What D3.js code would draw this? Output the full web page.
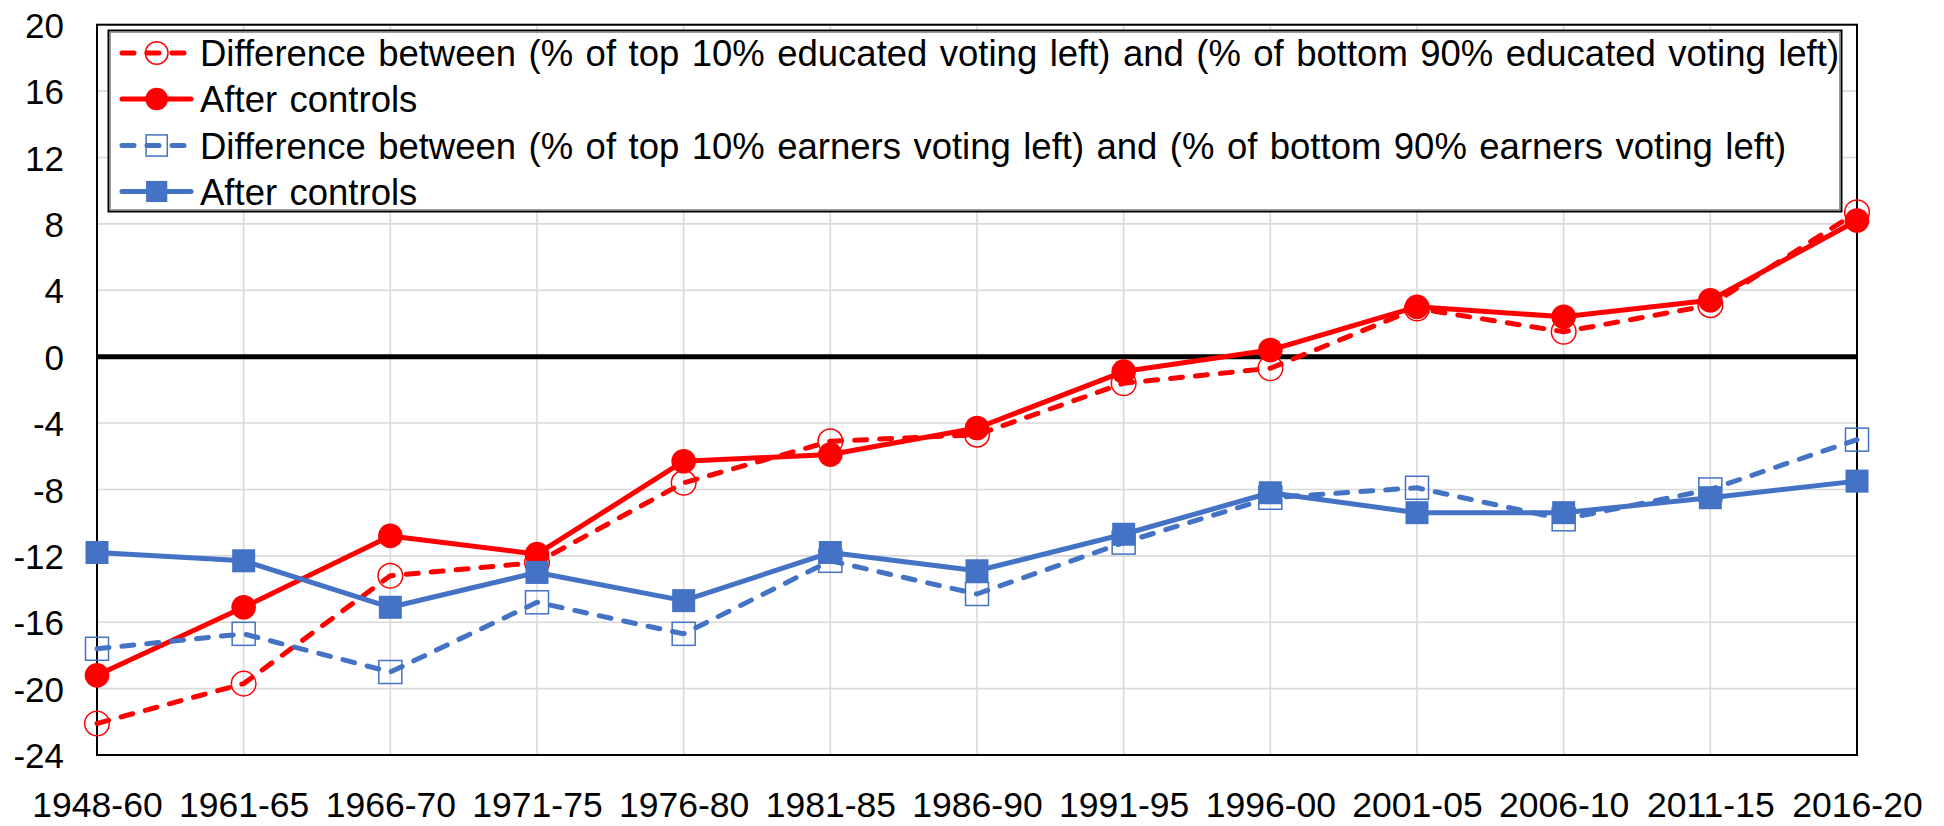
<!DOCTYPE html>
<html lang="en">
<head>
<meta charset="UTF-8">
<title>Education vs income cleavage</title>
<script src="https://d3js.org/d3.v7.min.js"></script>
<style>
  body { margin: 0; background: #fff; }
  svg { display: block; font-family: "Liberation Sans", Arial, sans-serif; }
  .grid line { stroke: #d9d9d9; stroke-width: 1.6; }
  .tick text { fill: #000; }
</style>
</head>
<body>
<svg width="1944" height="826"></svg>
<script>
// data
const periods = ["1948-60","1961-65","1966-70","1971-75","1976-80","1981-85","1986-90",
                 "1991-95","1996-00","2001-05","2006-10","2011-15","2016-20"];
const eduDiff = [-22.1,-19.7,-13.2,-12.4,-7.6,-5.1,-4.7,-1.6,-0.7,2.9,1.5,3.1,8.7];
const eduCtrl = [-19.2,-15.1,-10.8,-11.9,-6.3,-5.9,-4.3,-0.9,0.4,3.0,2.4,3.4,8.2];
const incDiff = [-17.6,-16.7,-19.0,-14.8,-16.7,-12.3,-14.3,-11.2,-8.5,-7.9,-9.8,-8.0,-5.0];
const incCtrl = [-11.8,-12.3,-15.1,-13.0,-14.7,-11.8,-12.9,-10.7,-8.2,-9.4,-9.4,-8.5,-7.5];
const yTicks = d3.range(-24, 21, 4);
const legendLabels = [
  "Difference between (% of top 10% educated voting left) and (% of bottom 90% educated voting left)",
  "After controls",
  "Difference between (% of top 10% earners voting left) and (% of bottom 90% earners voting left)",
  "After controls"
];

const red = "#ff0000", blue = "#4472c4";
const series = [
  {values: eduDiff, color: red,  dashed: true,  shape: "circle", filled: false},
  {values: eduCtrl, color: red,  dashed: false, shape: "circle", filled: true},
  {values: incDiff, color: blue, dashed: true,  shape: "square", filled: false},
  {values: incCtrl, color: blue, dashed: false, shape: "square", filled: true}
];

const plotL = 97, plotR = 1857, plotT = 24.7, plotB = 755;
const svg = d3.select("svg");

const x = d3.scalePoint().domain(periods).range([plotL, plotR]);
const y = d3.scaleLinear().domain([-24, 20]).range([plotB, plotT]);

// gridlines
const grid = svg.append("g").attr("class", "grid");
grid.selectAll(".h").data(yTicks).enter().append("line")
  .attr("x1", plotL).attr("x2", plotR)
  .attr("y1", d => y(d)).attr("y2", d => y(d));
grid.selectAll(".v").data(periods).enter().append("line")
  .attr("x1", d => x(d)).attr("x2", d => x(d))
  .attr("y1", plotT).attr("y2", plotB);

// axes (labels only)
const yAxis = svg.append("g")
  .attr("transform", `translate(${plotL},0)`)
  .call(d3.axisLeft(y).tickValues(yTicks).tickSize(0).tickPadding(33).tickFormat(d => String(d)));
yAxis.select(".domain").remove();
yAxis.selectAll("text").style("font-size", "35px").attr("dy", "0.36em");

const xAxis = svg.append("g")
  .attr("transform", `translate(0,${plotB})`)
  .call(d3.axisBottom(x).tickSize(0).tickPadding(37));
xAxis.select(".domain").remove();
xAxis.selectAll("text").style("font-size", "35.5px").attr("dy", "0.71em");

// plot frame
svg.append("rect")
  .attr("x", plotL).attr("y", plotT)
  .attr("width", plotR - plotL).attr("height", plotB - plotT)
  .attr("fill", "none").attr("stroke", "#000").attr("stroke-width", 2);

// zero line
svg.append("line")
  .attr("x1", plotL).attr("x2", plotR)
  .attr("y1", y(0)).attr("y2", y(0))
  .attr("stroke", "#000").attr("stroke-width", 5);

const line = d3.line().x((d, i) => x(periods[i])).y(d => y(d));

function drawMarker(g, s, cx, cy, k) {
  if (s.shape === "circle") {
    g.append("circle").attr("cx", cx).attr("cy", cy).attr("r", 12.3 * k)
      .attr("fill", s.filled ? s.color : "none")
      .attr("stroke", s.color).attr("stroke-width", s.filled ? 0 : 1.5);
  } else {
    const h = 11.5 * k;
    g.append("rect").attr("x", cx - h).attr("y", cy - h).attr("width", 2 * h).attr("height", 2 * h)
      .attr("fill", s.filled ? s.color : "none")
      .attr("stroke", s.color).attr("stroke-width", s.filled ? 0 : 1.5);
  }
}

series.forEach(s => {
  const g = svg.append("g");
  g.append("path")
    .attr("d", line(s.values))
    .attr("fill", "none")
    .attr("stroke", s.color)
    .attr("stroke-width", 5)
    .attr("stroke-linecap", "round")
    .attr("stroke-linejoin", "round")
    .attr("stroke-dasharray", s.dashed ? "12,13" : null);
  s.values.forEach((v, i) => drawMarker(g, s, x(periods[i]), y(v), 1));
});

// legend
const lg = svg.append("g");
lg.append("rect")
  .attr("x", 108.5).attr("y", 30.5).attr("width", 1733).attr("height", 181)
  .attr("fill", "#fff").attr("stroke", "#000").attr("stroke-width", 2);
lg.append("rect")
  .attr("x", 110.5).attr("y", 32.5).attr("width", 1729).attr("height", 177)
  .attr("fill", "none").attr("stroke", "#9a9a9a").attr("stroke-width", 1);

const rowY = [53, 99, 145.5, 191.5];
series.forEach((s, i) => {
  const cy = rowY[i];
  lg.append("line")
    .attr("x1", 122).attr("x2", 191).attr("y1", cy).attr("y2", cy)
    .attr("stroke", s.color).attr("stroke-width", 5)
    .attr("stroke-linecap", "round")
    .attr("stroke-dasharray", s.dashed ? "12,13" : null);
  drawMarker(lg, s, 156.7, cy, 0.92);
  lg.append("text")
    .attr("x", 200).attr("y", cy).attr("dy", "0.36em")
    .style("font-size", "36.5px")
    .style("word-spacing", "2.3px")
    .text(legendLabels[i]);
});
</script>
</body>
</html>
